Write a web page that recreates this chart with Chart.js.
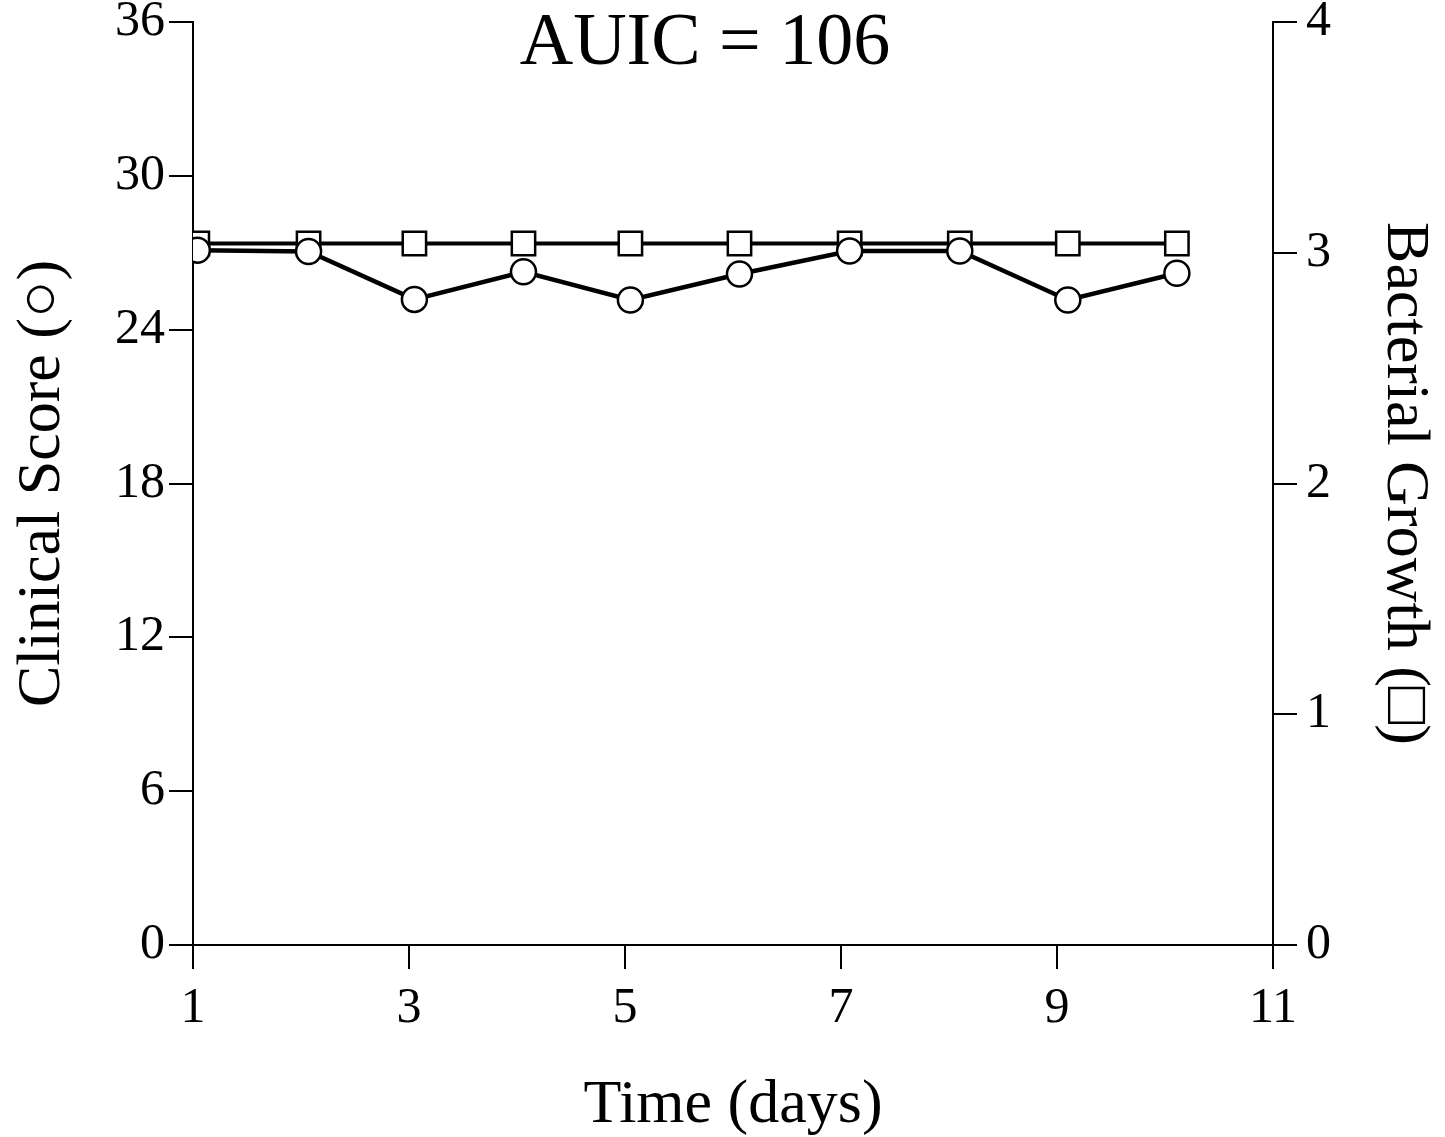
<!DOCTYPE html>
<html>
<head>
<meta charset="utf-8">
<script src="https://cdn.jsdelivr.net/npm/chart.js@4"></script>
<style>
  html, body { margin: 0; padding: 0; background: #fff; }
  #wrap { width: 1445px; height: 1137px; position: relative; }
</style>
</head>
<body>
<div id="wrap"><canvas id="chart"></canvas></div>
<script>
// values
const days = [1.04, 2.07, 3.05, 4.06, 5.05, 6.06, 7.08, 8.1, 9.1, 10.11];
const clinicalScore = [27.1, 27.05, 25.18, 26.26, 25.16, 26.17, 27.07, 27.07, 25.16, 26.2];
const bacterialGrowth = [3.04, 3.04, 3.04, 3.04, 3.04, 3.04, 3.04, 3.04, 3.04, 3.04];
const xTicks = [1, 3, 5, 7, 9, 11];
const leftTicks = [0, 6, 12, 18, 24, 30, 36];
const rightTicks = [0, 1, 2, 3, 4];
const chartTitle = 'AUIC = 106';

const SERIF = '"Liberation Serif", "Times New Roman", "DejaVu Serif", serif';

const toPoints = (ys) => days.map((d, i) => ({ x: d, y: ys[i] }));

const axisGrid = {
  drawOnChartArea: false,
  drawTicks: true,
  tickLength: 24,
  color: '#000',
  lineWidth: 2
};
const axisBorder = { display: true, color: '#000', width: 2 };

// keep tick labels from pushing the plot area around
const noOverflow = (s) => {
  s.paddingTop = 0;
  s.paddingBottom = 0;
  s.paddingLeft = 0;
  s.paddingRight = 0;
};

// fixed title drawn over the top of the plot
const titlePlugin = {
  id: 'auicTitle',
  afterDraw(chart) {
    const ctx = chart.ctx;
    ctx.save();
    ctx.font = '74px ' + SERIF;
    ctx.fillStyle = '#000';
    ctx.textAlign = 'center';
    ctx.textBaseline = 'alphabetic';
    ctx.fillText(chartTitle, 705, 64);
    ctx.restore();
  }
};

new Chart(document.getElementById('chart').getContext('2d'), {
  type: 'line',
  data: {
    datasets: [
      {
        label: 'Clinical Score',
        data: toPoints(clinicalScore),
        yAxisID: 'y',
        borderColor: '#000',
        borderWidth: 4.5,
        pointStyle: 'circle',
        pointRadius: 12.5,
        pointBorderWidth: 2.5,
        pointBackgroundColor: '#fff',
        pointBorderColor: '#000',
        order: 0
      },
      {
        label: 'Bacterial Growth',
        data: toPoints(bacterialGrowth),
        yAxisID: 'y1',
        borderColor: '#000',
        borderWidth: 4,
        pointStyle: 'rect',
        pointRadius: 16.5,
        pointBorderWidth: 2.5,
        pointBackgroundColor: '#fff',
        pointBorderColor: '#000',
        order: 1
      }
    ]
  },
  options: {
    responsive: true,
    maintainAspectRatio: false,
    animation: false,
    layout: { padding: { top: 22, left: 0, right: 0, bottom: 0 } },
    plugins: {
      legend: { display: false },
      tooltip: { enabled: false },
      title: { display: false }
    },
    scales: {
      x: {
        type: 'linear',
        min: 1,
        max: 11,
        afterBuildTicks: (s) => { s.ticks = xTicks.map(v => ({ value: v })); },
        afterFit: (s) => { s.height = 192; noOverflow(s); },
        grid: axisGrid,
        border: axisBorder,
        ticks: { color: '#000', padding: 10, font: { family: SERIF, size: 50 } },
        title: {
          display: true,
          text: 'Time (days)',
          color: '#000',
          font: { family: SERIF, size: 62 },
          padding: { top: 0, bottom: -6 }
        }
      },
      y: {
        type: 'linear',
        position: 'left',
        min: 0,
        max: 36,
        afterBuildTicks: (s) => { s.ticks = leftTicks.map(v => ({ value: v })); },
        afterFit: (s) => { s.width = 193; noOverflow(s); },
        grid: axisGrid,
        border: axisBorder,
        ticks: { color: '#000', padding: 4, font: { family: SERIF, size: 50 } },
        title: {
          display: true,
          text: 'Clinical Score (\u25CB)',
          color: '#000',
          font: { family: SERIF, size: 62 },
          padding: { top: 6, bottom: 0 }
        }
      },
      y1: {
        type: 'linear',
        position: 'right',
        min: 0,
        max: 4,
        afterBuildTicks: (s) => { s.ticks = rightTicks.map(v => ({ value: v })); },
        afterFit: (s) => { s.width = 172; noOverflow(s); },
        grid: axisGrid,
        border: axisBorder,
        ticks: { color: '#000', padding: 9, font: { family: SERIF, size: 50 } },
        title: {
          display: true,
          text: 'Bacterial Growth (\u25A1)',
          color: '#000',
          font: { family: SERIF, size: 62 },
          padding: { top: 4, bottom: 0 }
        }
      }
    }
  },
  plugins: [titlePlugin]
});
</script>
</body>
</html>
